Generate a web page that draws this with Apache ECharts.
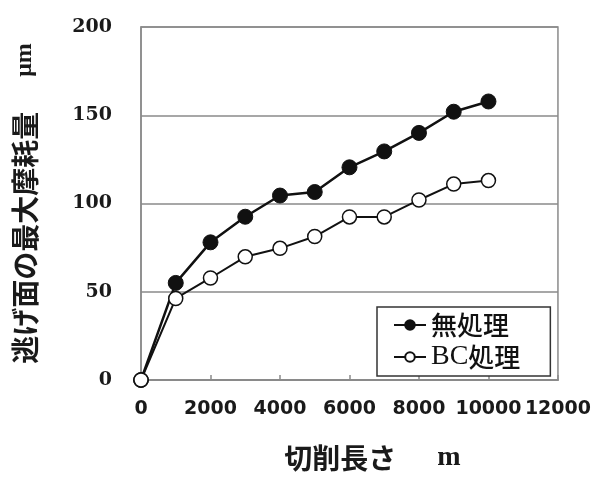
<!DOCTYPE html>
<html>
<head>
<meta charset="utf-8">
<script src="https://cdn.jsdelivr.net/npm/echarts@6/dist/echarts.min.js"></script>
<style>
  html, body { margin: 0; padding: 0; background: #fff; }
  #chart { width: 594px; height: 479px; }
</style>
</head>
<body>
<div id="chart"></div>
<script>
// Cutting length (m)
const cuttingLength = [0, 1000, 2000, 3000, 4000, 5000, 6000, 7000, 8000, 9000, 10000];
// Maximum flank wear (μm)
const untreatedWear = [0, 55, 78, 92.5, 104.5, 106.5, 120.5, 129.5, 140, 152, 157.8];
const bcTreatedWear = [0, 46.2, 57.8, 69.8, 74.6, 81.3, 92.4, 92.4, 102, 111, 113];

const seriesNames = ['無処理', 'BC処理'];
const yTicks = { min: 0, max: 200, interval: 50 };
const xTicks = { min: 0, max: 12000, interval: 2000 };

const pairs = (xs, ys) => xs.map((x, i) => [x, ys[i]]);

const chart = echarts.init(document.getElementById('chart'), null, { renderer: 'canvas' });

chart.setOption({
  backgroundColor: '#fff',
  animation: false,
  grid: {
    left: 141, right: 36, top: 27, bottom: 99,
    show: true, borderColor: '#8a8a8a', borderWidth: 1.5, backgroundColor: 'transparent'
  },
  xAxis: {
    type: 'value',
    min: xTicks.min, max: xTicks.max, interval: xTicks.interval,
    name: '{a|切削長さ}{g|}{b|m}',
    nameLocation: 'middle',
    nameGap: 64,
    nameTextStyle: {
      padding: [0, 0, 0, 46],
      rich: {
        a: { fontFamily: 'Noto Sans CJK JP', fontWeight: 'bold', fontSize: 28, color: '#1a1a1a' },
        g: { width: 41 },
        b: { fontFamily: 'Liberation Serif', fontWeight: 'bold', fontSize: 28, color: '#1a1a1a' }
      }
    },
    axisLine: { show: true, lineStyle: { color: '#8a8a8a', width: 2 } },
    axisTick: { show: true, inside: true, length: 5, lineStyle: { color: '#8a8a8a', width: 1.5 } },
    splitLine: { show: false },
    axisLabel: {
      margin: 20,
      showMinLabel: true, showMaxLabel: true, hideOverlap: false,
      formatter: v => String(v),
      fontFamily: 'DejaVu Sans', fontWeight: 'bold', fontSize: 19, color: '#1a1a1a'
    }
  },
  yAxis: {
    type: 'value',
    min: yTicks.min, max: yTicks.max, interval: yTicks.interval,
    name: '{a|逃げ面の最大摩耗量}{g|}{b|μm}',
    nameLocation: 'middle',
    nameGap: 102,
    nameTextStyle: {
      rich: {
        a: { fontFamily: 'Noto Sans CJK JP', fontWeight: 'bold', fontSize: 28, color: '#1a1a1a' },
        g: { width: 35 },
        b: { fontFamily: 'Liberation Serif', fontWeight: 'bold', fontSize: 24, color: '#1a1a1a' }
      }
    },
    axisLine: { show: true, lineStyle: { color: '#8a8a8a', width: 1.5 } },
    axisTick: { show: false },
    splitLine: { show: true, lineStyle: { color: '#8a8a8a', width: 1.5 } },
    axisLabel: {
      margin: 29,
      fontFamily: 'DejaVu Serif', fontWeight: 'bold', fontSize: 19, color: '#1a1a1a'
    }
  },
  legend: {
    orient: 'vertical',
    left: 377, top: 307,
    backgroundColor: '#fff',
    borderColor: '#333', borderWidth: 1.5,
    padding: [5, 30, 5, 16],
    itemGap: 5,
    itemWidth: 32, itemHeight: 12,
    data: seriesNames,
    formatter: name => name === 'BC処理' ? '{s|BC}{c|処理}' : '{c|無処理}',
    textStyle: {
      rich: {
        c: { fontFamily: 'Noto Sans CJK JP', fontWeight: 500, fontSize: 26, color: '#111', lineHeight: 32 },
        s: { fontFamily: 'Liberation Serif', fontSize: 28, color: '#111', lineHeight: 32 }
      }
    }
  },
  series: [
    {
      name: seriesNames[0],
      type: 'line',
      data: pairs(cuttingLength, untreatedWear),
      symbol: 'circle', symbolSize: 15,
      lineStyle: { color: '#111', width: 2.5 },
      itemStyle: { color: '#111', borderColor: '#111', borderWidth: 1 }
    },
    {
      name: seriesNames[1],
      type: 'line',
      data: pairs(cuttingLength, bcTreatedWear),
      symbol: 'circle', symbolSize: 14,
      lineStyle: { color: '#111', width: 2 },
      itemStyle: { color: '#fff', borderColor: '#111', borderWidth: 1.5 }
    }
  ]
});
</script>
</body>
</html>
